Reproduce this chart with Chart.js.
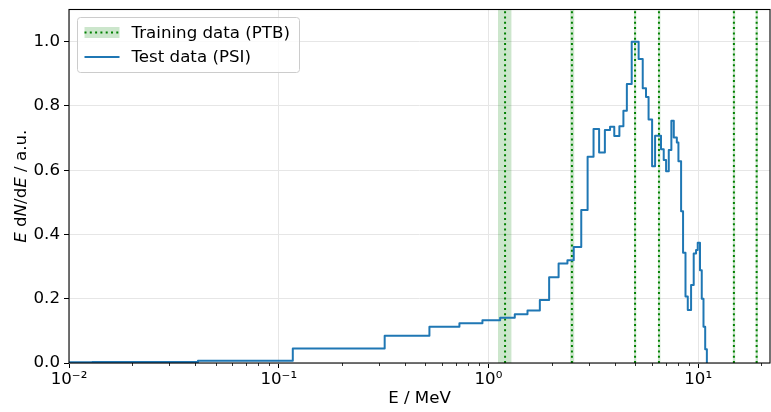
<!DOCTYPE html>
<html>
<head>
<meta charset="utf-8">
<script src="https://cdn.jsdelivr.net/npm/chart.js@4.4.1/dist/chart.umd.min.js"></script>
<style>
  html, body { margin: 0; padding: 0; background: #fff; }
  #wrap { width: 771px; height: 412px; }
</style>
</head>
<body>
<div id="wrap"><canvas id="chart" width="771" height="412"></canvas></div>
<script>
// PSI test spectrum: histogram bin edges (MeV) and normalised E dN/dE per bin
const binEdges = [0.01, 0.0129, 0.0412, 0.1167, 0.320, 0.523, 0.727, 0.936, 1.137, 1.335,
  1.535, 1.758, 1.947, 2.16, 2.38, 2.55, 2.77, 2.97, 3.17, 3.37,
  3.59, 3.80, 3.98, 4.21, 4.40, 4.57, 4.82, 5.20, 5.44, 5.64,
  5.80, 6.03, 6.23, 6.65, 6.85, 7.03, 7.24, 7.45, 7.65, 7.91,
  8.05, 8.29, 8.47, 8.70, 8.92, 9.25, 9.52, 9.77, 9.95, 10.2,
  10.4, 10.6, 10.8, 11.0];
const psiValues = [0.002, 0.003, 0.007, 0.045, 0.085, 0.113, 0.124, 0.133, 0.141,
  0.152, 0.163, 0.196, 0.267, 0.310, 0.320, 0.361, 0.476, 0.642, 0.728,
  0.655, 0.725, 0.735, 0.706, 0.737, 0.785, 0.868, 1.0, 0.946, 0.855,
  0.828, 0.758, 0.612, 0.707, 0.665, 0.632, 0.597, 0.663, 0.754, 0.702,
  0.686, 0.628, 0.472, 0.343, 0.207, 0.165, 0.243, 0.341, 0.352, 0.374,
  0.289, 0.200, 0.113, 0.043];

// PTB training energies (MeV) and their shaded ranges
const trainEnergies = [1.2, 2.5, 5.0, 6.5, 14.8, 19.0];
const trainLow = [1.11, 2.45, 4.93, 6.42, 14.6, 18.75];
const trainHigh = [1.29, 2.57, 5.08, 6.62, 15.05, 19.3];

const yTicks = [0, 0.2, 0.4, 0.6, 0.8, 1.0];
const xMin = 0.01, xMax = 22, yMax = 1.1;

const FONT = 'DejaVu Sans';
const FS = 16.67;
const gridGray = '#e6e6e6';
const sup = { '-': '\u207B', '0': '\u2070', '1': '\u00B9', '2': '\u00B2', '3': '\u00B3' };

function isDecade(v) {
  const l = Math.log10(v);
  return Math.abs(l - Math.round(l)) < 1e-9;
}

function decadeLabel(v) {
  if (!isDecade(v)) return '';
  const e = String(Math.round(Math.log10(v)));
  return '10' + e.split('').map((c) => sup[c]).join('');
}

// step points: each bin value starts at its left edge, drop to 0 at the last edge
const psiPoints = psiValues.map((v, i) => ({ x: binEdges[i], y: v }));
psiPoints.push({ x: binEdges[binEdges.length - 1], y: 0 });

const datasets = [];
trainEnergies.forEach((e, i) => {
  datasets.push({
    data: [
      { x: trainLow[i], y: 0 }, { x: trainLow[i], y: yMax },
      { x: trainHigh[i], y: yMax }, { x: trainHigh[i], y: 0 },
    ],
    fill: 'origin',
    backgroundColor: 'rgba(0,128,0,0.2)',
    borderWidth: 0,
    pointRadius: 0,
    order: 3,
  });
  datasets.push({
    data: [{ x: e, y: 0 }, { x: e, y: yMax }],
    borderColor: 'green',
    borderWidth: 2,
    borderDash: [2, 3.3],
    pointRadius: 0,
    fill: false,
    order: 2,
  });
});
datasets.push({
  label: 'Test data (PSI)',
  data: psiPoints,
  stepped: true,
  borderColor: '#1f77b4',
  borderWidth: 2,
  borderJoinStyle: 'round',
  pointRadius: 0,
  fill: false,
  order: 1,
});

// frame, minor ticks, y title with italics, boxed legend
const decorations = {
  id: 'decorations',
  afterDraw(chart) {
    const ctx = chart.ctx;
    const a = chart.chartArea;
    const xs = chart.scales.x;
    ctx.save();

    // minor ticks on the log axis
    ctx.strokeStyle = '#000';
    ctx.lineWidth = 0.8;
    xs.ticks.forEach((t) => {
      if (isDecade(t.value)) return;
      const s = t.value / Math.pow(10, Math.floor(Math.log10(t.value) + 1e-9));
      if (Math.abs(s - Math.round(s)) > 1e-6) return;
      const px = Math.round(xs.getPixelForValue(t.value)) + 0.5;
      ctx.beginPath();
      ctx.moveTo(px, a.bottom);
      ctx.lineTo(px, a.bottom + 3);
      ctx.stroke();
    });

    // axes frame
    ctx.lineWidth = 1.1;
    ctx.strokeRect(a.left, a.top, a.right - a.left, a.bottom - a.top);

    // y axis title
    const parts = [
      ['E', true], [' d', false], ['N', true], ['/d', false], ['E', true], [' / a.u.', false],
    ];
    const fnt = (it) => (it ? 'italic ' : '') + FS + 'px "' + FONT + '"';
    let total = 0;
    parts.forEach((p) => { ctx.font = fnt(p[1]); total += ctx.measureText(p[0]).width; });
    ctx.translate(22, (a.top + a.bottom) / 2);
    ctx.rotate(-Math.PI / 2);
    ctx.fillStyle = '#000';
    ctx.textBaseline = 'middle';
    let cx = -total / 2;
    parts.forEach((p) => {
      ctx.font = fnt(p[1]);
      ctx.fillText(p[0], cx, 0);
      cx += ctx.measureText(p[0]).width;
    });
    ctx.setTransform(1, 0, 0, 1, 0, 0);

    // legend
    const lx = a.left + 8.5, ly = a.top + 8, lw = 222, lh = 55;
    ctx.beginPath();
    ctx.roundRect(lx, ly, lw, lh, 3);
    ctx.fillStyle = 'rgba(255,255,255,0.8)';
    ctx.fill();
    ctx.strokeStyle = '#cccccc';
    ctx.lineWidth = 1;
    ctx.stroke();

    const hx0 = lx + 7, hx1 = lx + 42;
    const r1 = ly + 15, r2 = ly + 39.5;
    ctx.fillStyle = 'rgba(0,128,0,0.2)';
    ctx.fillRect(hx0, r1 - 5.5, hx1 - hx0, 11);
    ctx.strokeStyle = 'green';
    ctx.lineWidth = 2;
    ctx.setLineDash([2, 3.3]);
    ctx.beginPath();
    ctx.moveTo(hx0, r1);
    ctx.lineTo(hx1, r1);
    ctx.stroke();
    ctx.setLineDash([]);
    ctx.strokeStyle = '#1f77b4';
    ctx.beginPath();
    ctx.moveTo(hx0, r2);
    ctx.lineTo(hx1, r2);
    ctx.stroke();

    ctx.fillStyle = '#000';
    ctx.font = FS + 'px "' + FONT + '"';
    ctx.textBaseline = 'middle';
    ctx.fillText('Training data (PTB)', lx + 54, r1 + 1);
    ctx.fillText('Test data (PSI)', lx + 54, r2 + 1);
    ctx.restore();
  },
};

new Chart(document.getElementById('chart').getContext('2d'), {
  type: 'line',
  data: { datasets },
  options: {
    responsive: false,
    animation: false,
    devicePixelRatio: 1,
    layout: { padding: { top: 9.5, right: 1, left: 0, bottom: 0 } },
    plugins: {
      legend: { display: false },
      tooltip: { enabled: false },
    },
    scales: {
      x: {
        type: 'logarithmic',
        min: xMin,
        max: xMax,
        border: { display: false },
        grid: {
          color: (c) => (c.tick && isDecade(c.tick.value) ? gridGray : 'rgba(0,0,0,0)'),
          tickColor: (c) => (c.tick && isDecade(c.tick.value) ? '#000' : 'rgba(0,0,0,0)'),
          tickLength: 5,
          lineWidth: 1,
        },
        ticks: {
          autoSkip: false,
          maxRotation: 0,
          minRotation: 0,
          padding: 2,
          color: '#000',
          font: { family: FONT, size: FS },
          callback: (v) => decadeLabel(v),
        },
        title: {
          display: true,
          text: 'E / MeV',
          color: '#000',
          font: { family: FONT, size: FS },
          padding: { top: 0, bottom: 3 },
        },
        afterFit: (s) => {
          s.height = 49;
          s.paddingLeft = 0;
          s.paddingRight = 0;
        },
      },
      y: {
        type: 'linear',
        min: 0,
        max: yMax,
        border: { display: false },
        afterBuildTicks: (s) => { s.ticks = yTicks.map((v) => ({ value: v })); },
        grid: {
          color: gridGray,
          tickColor: '#000',
          tickLength: 5,
          lineWidth: 1,
        },
        ticks: {
          padding: 4,
          color: '#000',
          font: { family: FONT, size: FS },
          callback: (v) => Number(v).toFixed(1),
        },
        afterFit: (s) => {
          s.width = 69;
          s.paddingTop = 0;
          s.paddingBottom = 0;
        },
      },
    },
  },
  plugins: [decorations],
});
</script>
</body>
</html>
